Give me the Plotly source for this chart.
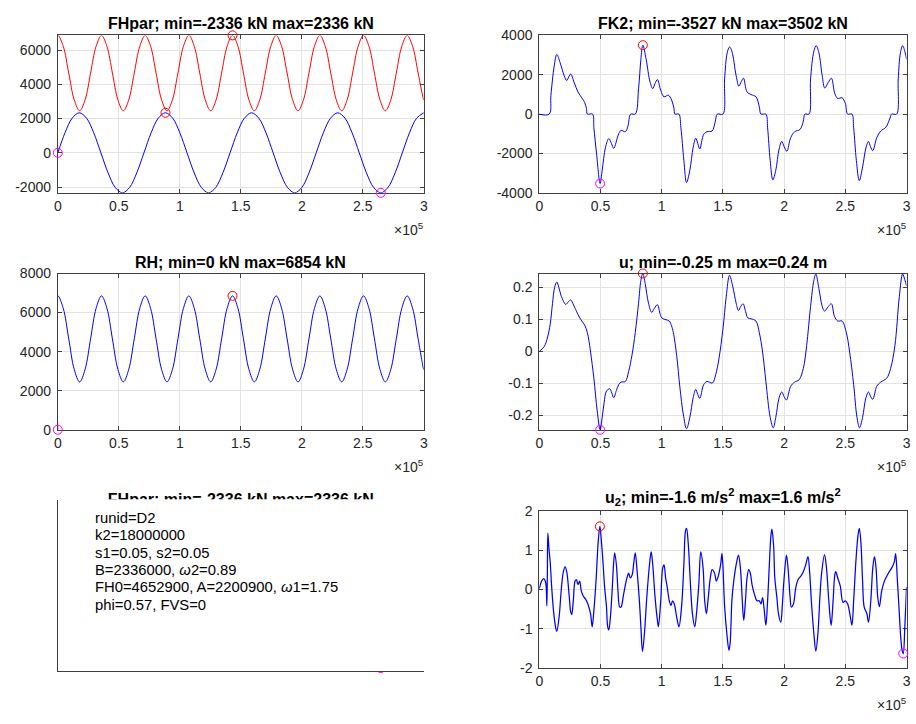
import plotly.graph_objects as go

W, H = 916, 724
FONT = "Liberation Sans, Arial, Helvetica, sans-serif"
BLUE, RED, MAGENTA = "#0000ff", "#ff0000", "#ff00ff"
AXC = "#404040"

# ---------------- data (time in units of 1e5 samples) ----------------
t_fh = [0, 0.0588, 0.1177, 0.1765, 0.2353, 0.2942, 0.353, 0.4118, 0.4707, 0.5295, 0.5883, 0.6472,
        0.706, 0.7648, 0.8237, 0.8825, 0.9413, 1.0002, 1.059, 1.1178, 1.1767, 1.2355, 1.2943, 1.3532,
        1.412, 1.4708, 1.5297, 1.5885, 1.6473, 1.7062, 1.765, 1.8238, 1.8827, 1.9415, 2.0003, 2.0592,
        2.118, 2.1768, 2.2357, 2.2945, 2.3533, 2.4122, 2.471, 2.5298, 2.5887, 2.6475, 2.7063, 2.7652,
        2.824, 2.8828, 2.9417, 3.0]
fh_par = [0, 1168, 2023, 2334, 2023, 1168, 0, -1168, -2023, -2334, -2023, -1168,
          0, 1168, 2023, 2336, 2023, 1168, 0, -1168, -2023, -2334, -2023, -1168,
          0, 1168, 2023, 2334, 2023, 1168, 0, -1168, -2023, -2334, -2023, -1168,
          0, 1168, 2023, 2334, 2023, 1168, 0, -1168, -2023, -2336, -2023, -1168,
          0, 1168, 2023, 2334]

t_rh = [0, 0.0005, 0.0448, 0.0895, 0.1343, 0.179, 0.2238, 0.2685, 0.3133, 0.358,
        0.4028, 0.4475, 0.4923, 0.537, 0.5818, 0.6265, 0.6713, 0.716,
        0.7608, 0.8055, 0.8503, 0.895, 0.9398, 0.9845, 1.0293, 1.074,
        1.1188, 1.1635, 1.2083, 1.253, 1.2978, 1.3425, 1.3873, 1.432,
        1.4768, 1.5215, 1.5663, 1.611, 1.6558, 1.7005, 1.7453, 1.79,
        1.8348, 1.8795, 1.9243, 1.969, 2.0138, 2.0585, 2.1033, 2.148,
        2.1928, 2.2375, 2.2823, 2.327, 2.3718, 2.4165, 2.4613, 2.506,
        2.5508, 2.5955, 2.6403, 2.685, 2.7298, 2.7745, 2.8193, 2.864,
        2.9088, 2.9535, 2.9983, 3.0]
rh = [0, 6852, 6209, 4653, 3097, 2452, 3097, 4653, 6209, 6852,
      6209, 4653, 3097, 2452, 3097, 4653, 6209, 6852,
      6209, 4653, 3097, 2452, 3097, 4653, 6209, 6852,
      6209, 4653, 3097, 2452, 3097, 4653, 6209, 6854,
      6209, 4653, 3097, 2452, 3097, 4653, 6209, 6852,
      6209, 4653, 3097, 2452, 3097, 4653, 6209, 6852,
      6209, 4653, 3097, 2452, 3097, 4653, 6209, 6852,
      6209, 4653, 3097, 2452, 3097, 4653, 6209, 6852,
      6209, 4653, 3097, 3080]

fk2_pts = [
    (0, 0), (0.081, 0), (0.095, 960), (0.122, 2450), (0.143, 3030), (0.17, 2616), (0.203, 1954),
    (0.224, 1706), (0.24, 1880), (0.257, 2037), (0.284, 1623), (0.316, 1126), (0.351, 795),
    (0.37, 596), (0.385, 300), (0.393, 0), (0.435, 0), (0.446, -696), (0.468, -2020),
    (0.497, -3527), (0.514, -2848), (0.541, -1689), (0.568, -1242), (0.59, -1500), (0.608, -1739),
    (0.649, -994), (0.668, -828), (0.703, -894), (0.724, -613), (0.747, 0), (0.784, 0),
    (0.811, 1292), (0.83, 2782), (0.846, 3502), (0.873, 2782), (0.905, 1623), (0.927, 1292),
    (0.945, 1550), (0.965, 1755), (0.992, 1209), (1.019, 878), (1.054, 960), (1.081, 712),
    (1.1, 300), (1.108, 0), (1.14, 0), (1.157, -696), (1.181, -2352), (1.203, -3478),
    (1.23, -2848), (1.257, -1689), (1.278, -1225), (1.295, -1500), (1.311, -1772), (1.343, -1027),
    (1.37, -894), (1.411, -861), (1.438, -364), (1.454, 0), (1.5, 0), (1.514, 1788),
    (1.535, 3113), (1.554, 3411), (1.573, 3196), (1.608, 1954), (1.63, 1424), (1.65, 1650),
    (1.668, 1822), (1.697, 1126), (1.73, 994), (1.77, 878), (1.797, 381), (1.811, 0),
    (1.851, 0), (1.865, -696), (1.886, -2352), (1.908, -3345), (1.932, -2848), (1.959, -1772),
    (1.981, -1391), (2.0, -1650), (2.022, -1888), (2.054, -1192), (2.086, -894), (2.13, -778),
    (2.157, -364), (2.17, 0), (2.203, 0), (2.216, 1788), (2.243, 3196), (2.262, 3478),
    (2.284, 3113), (2.311, 1954), (2.332, 1325), (2.36, 1600), (2.386, 1822), (2.414, 1043),
    (2.438, 795), (2.473, 828), (2.5, 546), (2.519, 0), (2.554, 0), (2.568, -696),
    (2.59, -2352), (2.614, -3378), (2.641, -2683), (2.668, -1722), (2.689, -1391), (2.705, -1650),
    (2.724, -1855), (2.757, -1192), (2.789, -861), (2.832, -662), (2.865, -199), (2.878, 0),
    (2.919, 0), (2.932, 1788), (2.95, 3113), (2.968, 3478), (2.989, 3113), (3.0, 2782),
]

u_pts = [
    (0, 0), (0.04, 0.015), (0.068, 0.045), (0.089, 0.085), (0.108, 0.15), (0.125, 0.2),
    (0.143, 0.217), (0.16, 0.2), (0.176, 0.177), (0.2, 0.155), (0.216, 0.147), (0.24, 0.156),
    (0.257, 0.161), (0.28, 0.145), (0.297, 0.131), (0.338, 0.1), (0.37, 0.083), (0.392, 0.059),
    (0.405, 0.035), (0.419, -0.002), (0.446, -0.084), (0.473, -0.186), (0.497, -0.2452),
    (0.514, -0.206), (0.53, -0.16), (0.549, -0.124), (0.576, -0.117), (0.592, -0.13),
    (0.608, -0.145), (0.63, -0.122), (0.649, -0.104), (0.668, -0.096), (0.703, -0.094),
    (0.73, -0.063), (0.757, -0.012), (0.784, 0.059), (0.811, 0.151), (0.83, 0.222),
    (0.846, 0.2437), (0.865, 0.212), (0.892, 0.151), (0.919, 0.122), (0.94, 0.135),
    (0.965, 0.146), (0.985, 0.12), (1.0, 0.105), (1.027, 0.1), (1.062, 0.095), (1.08, 0.08),
    (1.095, 0.059), (1.122, -0.012), (1.149, -0.114), (1.176, -0.196), (1.203, -0.242),
    (1.23, -0.206), (1.257, -0.145), (1.278, -0.119), (1.295, -0.135), (1.311, -0.147),
    (1.343, -0.104), (1.37, -0.094), (1.414, -0.099), (1.441, -0.073), (1.468, -0.022),
    (1.5, 0.069), (1.527, 0.171), (1.554, 0.238), (1.581, 0.202), (1.608, 0.151),
    (1.627, 0.128), (1.645, 0.14), (1.665, 0.149), (1.685, 0.125), (1.703, 0.105),
    (1.73, 0.102), (1.77, 0.095), (1.797, 0.059), (1.824, -0.002), (1.851, -0.094),
    (1.886, -0.206), (1.911, -0.239), (1.932, -0.206), (1.959, -0.145), (1.981, -0.127),
    (2.0, -0.142), (2.019, -0.152), (2.054, -0.109), (2.086, -0.096), (2.122, -0.089),
    (2.157, -0.053), (2.184, 0.018), (2.216, 0.141), (2.243, 0.222), (2.259, 0.242),
    (2.284, 0.197), (2.311, 0.141), (2.33, 0.126), (2.36, 0.14), (2.386, 0.149),
    (2.411, 0.11), (2.438, 0.095), (2.473, 0.095), (2.508, 0.059), (2.535, -0.002),
    (2.568, -0.104), (2.595, -0.206), (2.616, -0.239), (2.641, -0.206), (2.668, -0.145),
    (2.689, -0.127), (2.705, -0.14), (2.724, -0.15), (2.757, -0.109), (2.789, -0.096),
    (2.838, -0.084), (2.87, -0.053), (2.905, 0.018), (2.941, 0.171), (2.968, 0.242),
    (2.985, 0.225), (3.0, 0.205),
]

u2_pts = [
    (0, 0.02), (0.019, 0.21), (0.035, 0.27), (0.05, 0.2), (0.058, -0.05), (0.062, -0.42),
    (0.066, 0.4), (0.07, 1.43), (0.08, 1.0), (0.089, 0.7), (0.1, 0.12), (0.116, -0.54),
    (0.135, -0.99), (0.143, -1.07), (0.162, -0.7), (0.181, 0.04), (0.197, 0.45), (0.211, 0.57),
    (0.224, 0.45), (0.243, -0.12), (0.257, -0.58), (0.265, -0.64), (0.278, -0.29), (0.292, 0.21),
    (0.303, 0.25), (0.316, 0.12), (0.33, 0.21), (0.343, -0.04), (0.359, -0.17), (0.378, -0.25),
    (0.397, -0.37), (0.419, -0.62), (0.432, -0.95), (0.446, -0.54), (0.465, 0.29), (0.481, 1.2),
    (0.495, 1.6), (0.508, 1.2), (0.522, 0.62), (0.532, 0.12), (0.549, -0.45), (0.559, -0.95),
    (0.568, -1.03), (0.581, -0.7), (0.595, -0.04), (0.608, 0.7), (0.616, 0.93), (0.63, 0.62),
    (0.643, -0.04), (0.657, -0.45), (0.668, -0.45), (0.689, -0.12), (0.716, 0.29), (0.73, 0.41),
    (0.743, 0.29), (0.759, 0.37), (0.77, 0.62), (0.784, 0.93), (0.797, 0.54), (0.816, -0.21),
    (0.83, -0.95), (0.843, -1.58), (0.859, -1.12), (0.878, -0.21), (0.9, 0.62), (0.914, 0.95),
    (0.927, 0.62), (0.946, -0.21), (0.965, -0.79), (0.973, -0.95), (0.992, -0.29), (1.008, 0.54),
    (1.019, 0.62), (1.032, 0.29), (1.046, 0.04), (1.062, -0.29), (1.076, -0.41), (1.089, -0.29),
    (1.103, -0.37), (1.122, -0.7), (1.141, -0.95), (1.162, -0.45), (1.181, 0.62), (1.195, 1.5),
    (1.203, 1.55), (1.216, 1.2), (1.235, 0.12), (1.251, -0.62), (1.27, -0.95), (1.284, -0.62),
    (1.303, 0.12), (1.319, 0.95), (1.338, 0.54), (1.351, -0.29), (1.365, -0.62), (1.378, -0.29),
    (1.397, 0.29), (1.412, 0.5), (1.432, 0.41), (1.446, 0.21), (1.459, 0.3), (1.481, 0.62),
    (1.492, 0.91), (1.5, 0.6), (1.514, -0.45), (1.532, -1.12), (1.549, -1.55), (1.559, -1.36),
    (1.573, -0.29), (1.581, 0), (1.595, 0.37), (1.608, 0.62), (1.627, 0.87), (1.643, 0.54),
    (1.657, -0.21), (1.67, -0.79), (1.684, -0.29), (1.697, 0.29), (1.711, 0.5), (1.724, 0.41),
    (1.738, 0.12), (1.757, -0.12), (1.778, -0.29), (1.797, -0.29), (1.811, -0.37), (1.824, -0.21),
    (1.838, -0.54), (1.851, -0.91), (1.865, -0.29), (1.878, 0.54), (1.892, 1.36), (1.9, 1.53),
    (1.914, 1.12), (1.924, 0.29), (1.941, -0.21), (1.954, -0.62), (1.973, -0.83), (1.986, -0.37),
    (2.0, 0.29), (2.019, 0.87), (2.032, 0.54), (2.049, -0.21), (2.059, -0.45), (2.076, -0.37),
    (2.095, 0.04), (2.114, 0.25), (2.135, 0.33), (2.157, 0.45), (2.176, 0.62), (2.195, 0.83),
    (2.208, 0.45), (2.224, -0.37), (2.243, -1.12), (2.259, -1.57), (2.276, -1.12), (2.292, -0.21),
    (2.305, 0.37), (2.33, 0.88), (2.346, 0.54), (2.365, -0.29), (2.384, -0.91), (2.4, -0.29),
    (2.414, 0.37), (2.422, 0.45), (2.438, 0.29), (2.459, 0.08), (2.481, -0.33), (2.5, -0.29),
    (2.519, -0.37), (2.541, -0.7), (2.554, -0.91), (2.568, -0.29), (2.586, 0.7), (2.603, 1.36),
    (2.614, 1.55), (2.627, 1.2), (2.641, 0.21), (2.654, -0.45), (2.676, -0.62), (2.689, -0.83),
    (2.708, -0.29), (2.724, 0.54), (2.738, 0.83), (2.751, 0.54), (2.765, -0.21), (2.778, -0.44),
    (2.797, -0.04), (2.819, 0.21), (2.838, 0.33), (2.859, 0.45), (2.878, 0.54), (2.9, 0.7),
    (2.911, 0.91), (2.924, 0.29), (2.941, -0.62), (2.954, -1.28), (2.965, -1.57), (2.973, -1.63),
    (2.986, -0.95), (3.0, 0.06),
]

t_fk2, fk2 = [list(c) for c in zip(*fk2_pts)]
t_u, u = [list(c) for c in zip(*u_pts)]
t_u2, u2 = [list(c) for c in zip(*u2_pts)]

x_ticks = [0, 0.5, 1, 1.5, 2, 2.5, 3]
x_ticktext = ["0", "0.5", "1", "1.5", "2", "2.5", "3"]

run_info = [
    "runid=D2",
    "k2=18000000",
    "s1=0.05, s2=0.05",
    "B=2336000, <i>ω</i>2=0.89",
    "FH0=4652900, A=2200900, <i>ω</i>1=1.75",
    "phi=0.57, FVS=0",
]

# ---------------- layout geometry (pixels) ----------------
COL = {"L": (54.3, 423.5), "R": (540.0, 910.5)}
ROW = {1: (28.0, 189.0), 2: (271.5, 431.3), 3: (514.0, 675.0)}


def px(x):
    return x / W


def py(y):
    return 1 - y / H


def xdom(c):
    return [px(COL[c][0]), px(COL[c][1])]


def ydom(r):
    return [py(ROW[r][1]), py(ROW[r][0])]


fig = go.Figure()


def add_line(ax, t, v, color, width=1.0):
    fig.add_trace(go.Scatter(
        x=t, y=v, mode="lines", xaxis="x" + ax, yaxis="y" + ax,
        line=dict(color=color, width=width, shape="spline", smoothing=1),
        hoverinfo="skip", showlegend=False))


def add_marker(ax, x, y, c):
    fig.add_trace(go.Scatter(
        x=[x], y=[y], mode="markers", xaxis="x" + ax, yaxis="y" + ax,
        marker=dict(symbol="circle-open", size=9, color=c, line=dict(color=c, width=1)),
        cliponaxis=False, hoverinfo="skip", showlegend=False))


def add_extrema(ax, t, v):
    imax = max(range(len(v)), key=lambda i: v[i])
    imin = min(range(len(v)), key=lambda i: v[i])
    add_marker(ax, t[imax], v[imax], RED)
    add_marker(ax, t[imin], v[imin], MAGENTA)


def fmt_title(name, v, unit, nd):
    return f"{name}; min={min(v):.{nd}f} {unit} max={max(v):.{nd}f} {unit}"


# panel 1: FHpar together with RH
add_line("", t_rh, rh, RED)
add_line("", t_fh, fh_par, BLUE)
add_extrema("", t_fh, fh_par)
add_extrema("", t_rh, rh)
# panel 2: FK2
add_line("2", t_fk2, fk2, BLUE)
add_extrema("2", t_fk2, fk2)
# panel 3: RH
add_line("3", t_rh, rh, BLUE)
add_extrema("3", t_rh, rh)
# panel 4: u
add_line("4", t_u, u, BLUE)
add_extrema("4", t_u, u)

# panel 5: axes hidden beneath the parameter box; only its title top and minimum
# marker peek out.  The hidden y axis reaches up to y=490 px so the title stays in range.
Y5_TOP_PX = 490.0
y5_per_px = (max(rh) - min(fh_par)) / (ROW[3][1] - ROW[3][0])
y5_range = [min(fh_par), max(rh) + (ROW[3][0] - Y5_TOP_PX) * y5_per_px]
imin_fh = min(range(len(fh_par)), key=lambda i: fh_par[i])
add_marker("5", t_fh[imin_fh], fh_par[imin_fh], MAGENTA)
fig.add_trace(go.Scatter(
    x=[1.5], y=[max(rh) + (ROW[3][0] - 503.7) * y5_per_px], mode="text",
    xaxis="x5", yaxis="y5", text=[fmt_title("FHpar", fh_par, "kN", 0)],
    textposition="middle center", cliponaxis=False,
    textfont=dict(family=FONT, size=16, color="#000000", weight="bold"),
    hoverinfo="skip", showlegend=False))

# panel 6: u2
add_line("6", t_u2, u2, BLUE, width=1.25)
add_extrema("6", t_u2, u2)
# empty frame holding the run parameters
fig.add_trace(go.Scatter(x=[None], y=[None], mode="lines", xaxis="x7", yaxis="y7",
                         hoverinfo="skip", showlegend=False))

TICKFONT = dict(family=FONT, size=14, color="#262626")


def axis_style(**kw):
    d = dict(showline=True, linecolor=AXC, linewidth=1, mirror="allticks",
             ticks="inside", ticklen=4, tickcolor=AXC, tickwidth=1,
             showgrid=True, gridcolor="#e3e3e3", gridwidth=1, zeroline=False,
             tickfont=TICKFONT, layer="below traces", fixedrange=True)
    d.update(kw)
    return d


def xax(c, anchor):
    return axis_style(domain=xdom(c), range=[0, 3], tickvals=x_ticks, ticktext=x_ticktext,
                      anchor=anchor)


def yax(r, anchor, rng, vals, texts):
    return axis_style(domain=ydom(r), range=rng, tickvals=vals, ticktext=texts, anchor=anchor,
                      ticklabelstandoff=3)


frame = dict(showline=True, linecolor=AXC, linewidth=1, showgrid=False, zeroline=False,
             showticklabels=False, ticks="", range=[0, 1], fixedrange=True)

layout = dict(
    width=W, height=H, margin=dict(l=0, r=0, t=0, b=0),
    paper_bgcolor="white", plot_bgcolor="white", showlegend=False,
    font=dict(family=FONT, color="#262626"),
    xaxis=xax("L", "y"),
    yaxis=yax(1, "x", [min(fh_par), max(rh)], [-2000, 0, 2000, 4000, 6000],
              ["-2000", "0", "2000", "4000", "6000"]),
    xaxis2=xax("R", "y2"),
    yaxis2=yax(1, "x2", [-4000, 4000], [-4000, -2000, 0, 2000, 4000],
               ["-4000", "-2000", "0", "2000", "4000"]),
    xaxis3=xax("L", "y3"),
    yaxis3=yax(2, "x3", [0, 8000], [0, 2000, 4000, 6000, 8000],
               ["0", "2000", "4000", "6000", "8000"]),
    xaxis4=xax("R", "y4"),
    yaxis4=yax(2, "x4", [min(u), max(u)], [-0.2, -0.1, 0, 0.1, 0.2],
               ["-0.2", "-0.1", "0", "0.1", "0.2"]),
    xaxis5=dict(domain=xdom("L"), range=[0, 3], visible=False, anchor="y5", fixedrange=True),
    yaxis5=dict(domain=[py(ROW[3][1]), py(Y5_TOP_PX)], range=y5_range, visible=False,
                anchor="x5", fixedrange=True),
    xaxis6=xax("R", "y6"),
    yaxis6=yax(3, "x6", [-2, 2], [-2, -1, 0, 1, 2], ["-2", "-1", "0", "1", "2"]),
    xaxis7=dict(frame, domain=[px(54.3), px(424.0)], anchor="y7"),
    yaxis7=dict(frame, domain=[py(678.3), py(502.7)], anchor="x7"),
    # white parameter box laid over the lower-left axes
    shapes=[dict(type="rect", xref="paper", yref="paper", layer="above",
                 x0=px(55.2), x1=px(432.0), y0=py(677.7), y1=py(502.7),
                 fillcolor="white", line=dict(width=0))],
)

annotations = []


def title(c, r, text, yshift=1):
    annotations.append(dict(
        x=(px(COL[c][0]) + px(COL[c][1])) / 2, y=py(ROW[r][0]), xref="paper", yref="paper",
        xanchor="center", yanchor="bottom", yshift=yshift, showarrow=False,
        text="<b>" + text + "</b>", font=dict(family=FONT, size=16, color="#000000")))


def exponent(c, r):
    annotations.append(dict(
        x=px(min(COL[c][1] + 2, W)), y=py(ROW[r][1]), xref="paper", yref="paper",
        xanchor="right", yanchor="top", yshift=-25, showarrow=False,
        text="×10<sup>5</sup>", font=dict(family=FONT, size=14, color="#262626")))


title("L", 1, fmt_title("FHpar", fh_par, "kN", 0))
title("R", 1, fmt_title("FK2", fk2, "kN", 0))
title("L", 2, fmt_title("RH", rh, "kN", 0))
title("R", 2, fmt_title("u", u, "m", 2))
title("R", 3, "u<sub>2</sub>; min=%.1f m/s<sup>2</sup> max=%.1f m/s<sup>2</sup>" % (min(u2), max(u2)))
for c, r in (("L", 1), ("R", 1), ("L", 2), ("R", 2), ("R", 3)):
    exponent(c, r)

line_y = [521.5, 539.2, 557.0, 574.5, 592.3, 610.0]
for txt, yy in zip(run_info, line_y):
    annotations.append(dict(
        x=px(90), y=py(yy), xref="paper", yref="paper", xanchor="left", yanchor="middle",
        showarrow=False, text=txt, font=dict(family=FONT, size=14.8, color="#000000")))

layout["annotations"] = annotations
fig.update_layout(**layout)
fig.write_html("out.html")
